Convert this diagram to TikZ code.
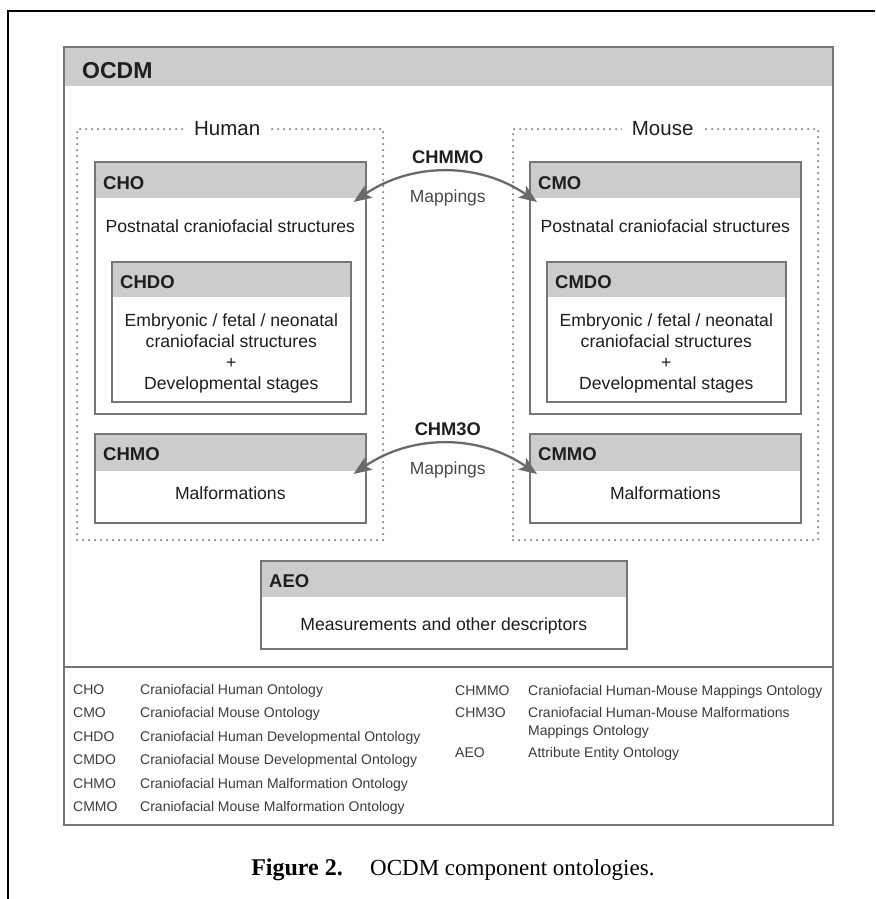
\documentclass[tikz,border=0pt]{standalone}
\usepackage{fontspec}
\setmainfont{Liberation Sans}
\newfontfamily\capfont{Liberation Serif}
\usetikzlibrary{calc,arrows.meta}
\definecolor{hdr}{HTML}{CCCCCC}
\definecolor{bord}{HTML}{767676}
\definecolor{txt}{HTML}{1E1E1E}
\definecolor{soft}{HTML}{4A4A4A}
\definecolor{leg}{HTML}{3C3C3C}
\definecolor{arr}{HTML}{6A6A6A}
\definecolor{dots}{HTML}{7C7C7C}
\tikzset{
  box/.style={draw=bord, line width=1.6pt, rectangle, inner sep=0pt, anchor=north west, fill=white},
  hbox/.style={box, path picture={\fill[hdr] (path picture bounding box.north west) rectangle ($(path picture bounding box.north east)+(0,#1)$);}},
  hbox/.default=36,
  dotbox/.style={draw=dots, line width=2.3pt, dash pattern=on 0pt off 6pt, line cap=round, rectangle, inner sep=0pt, anchor=north west},
  hdrtxt/.style={font=\fontsize{18.5}{20}\selectfont\bfseries, text=txt, anchor=base west, inner sep=0pt},
  body/.style={font=\fontsize{17.6}{21}\selectfont, text=txt, anchor=base, inner sep=0pt},
  grouplbl/.style={font=\fontsize{20.5}{22}\selectfont, text=txt, fill=white, inner xsep=10pt, inner ysep=2pt},
  maplbl/.style={font=\fontsize{18.3}{20}\selectfont\bfseries, text=txt, anchor=base, inner sep=0pt},
  mapsub/.style={font=\fontsize{17.5}{20}\selectfont, text=soft, anchor=base, inner sep=0pt},
  maparrow/.style={draw=arr, line width=2.3pt, {Stealth[length=18pt, width=14pt, inset=4pt, fill=arr]}-{Stealth[length=18pt, width=14pt, inset=4pt, fill=arr]}},
  legtxt/.style={font=\fontsize{14}{16}\selectfont, text=leg, anchor=base west, inner sep=0pt},
  captxt/.style={font=\capfont\fontsize{23}{26}\selectfont, text=black, anchor=base west, inner sep=0pt}
}
\begin{document}
\begin{tikzpicture}[x=1pt, y=-1pt]
\useasboundingbox (0,0) rectangle (875,899);
% outer frame
\draw[black, line width=2.5pt] (8,899) -- (8,11) -- (875,11);

% OCDM frame
\node[hbox=39, minimum width=769pt, minimum height=778pt] (ocdm) at (63,46) {};
\node[hdrtxt, font=\fontsize{23}{25}\selectfont\bfseries] (ocdmt) at ($(ocdm.north west)+(19,32)$) {OCDM};
\draw[bord, line width=1.6pt] ($(ocdm.north west)+(0,621)$) -- ($(ocdm.north east)+(0,621)$);

% groups
\node[dotbox, minimum width=306pt, minimum height=411pt] (human) at (76,128) {};
\node[grouplbl] (humant) at ($(human.north)+(-3,1)$) {Human};
\node[dotbox, minimum width=305pt, minimum height=411pt] (mouse) at (512,128) {};
\node[grouplbl] (mouset) at ($(mouse.north)+(-3,1)$) {Mouse};

% CHO
\node[hbox, minimum width=271pt, minimum height=252pt] (cho) at (94,161) {};
\node[hdrtxt] (chot) at ($(cho.north west)+(9,28)$) {CHO};
\node[body] (chob) at ($(cho.north)+(0,71)$) {Postnatal craniofacial structures};
\node[hbox=35, minimum width=239pt, minimum height=140pt] (chdo) at (111,261) {};
\node[hdrtxt] (chdot) at ($(chdo.north west)+(9,27)$) {CHDO};
\node[body] (chdo1) at ($(chdo.north)+(0,65)$) {Embryonic / fetal / neonatal};
\node[body] (chdo2) at ($(chdo.north)+(0,86)$) {craniofacial structures};
\node[body] (chdo3) at ($(chdo.north)+(0,107)$) {+};
\node[body] (chdo4) at ($(chdo.north)+(0,128)$) {Developmental stages};

% CMO
\node[hbox, minimum width=271pt, minimum height=252pt] (cmo) at (529,161) {};
\node[hdrtxt] (cmot) at ($(cmo.north west)+(9,28)$) {CMO};
\node[body] (cmob) at ($(cmo.north)+(0,71)$) {Postnatal craniofacial structures};
\node[hbox=35, minimum width=239pt, minimum height=140pt] (cmdo) at (546,261) {};
\node[hdrtxt] (cmdot) at ($(cmdo.north west)+(9,27)$) {CMDO};
\node[body] (cmdo1) at ($(cmdo.north)+(0,65)$) {Embryonic / fetal / neonatal};
\node[body] (cmdo2) at ($(cmdo.north)+(0,86)$) {craniofacial structures};
\node[body] (cmdo3) at ($(cmdo.north)+(0,107)$) {+};
\node[body] (cmdo4) at ($(cmdo.north)+(0,128)$) {Developmental stages};

% CHMO / CMMO
\node[hbox=37, minimum width=271pt, minimum height=89pt] (chmo) at (94,433) {};
\node[hdrtxt] (chmot) at ($(chmo.north west)+(9,27)$) {CHMO};
\node[body] (chmob) at ($(chmo.north)+(0,66)$) {Malformations};
\node[hbox=37, minimum width=271pt, minimum height=89pt] (cmmo) at (529,433) {};
\node[hdrtxt] (cmmot) at ($(cmmo.north west)+(9,27)$) {CMMO};
\node[body] (cmmob) at ($(cmmo.north)+(0,66)$) {Malformations};

% AEO
\node[hbox, minimum width=366pt, minimum height=88pt] (aeo) at (260,560) {};
\node[hdrtxt] (aeot) at ($(aeo.north west)+(9,27)$) {AEO};
\node[body] (aeob) at ($(aeo.north)+(0,70)$) {Measurements and other descriptors};

% mappings
\coordinate (m1) at ($(cho.north east)!0.5!(cmo.north west)$);
\node[maplbl] (chmmo) at ($(m1)+(0,2)$) {CHMMO};
\node[mapsub] (map1) at ($(m1)+(0,41)$) {Mappings};
\coordinate (a1l) at ($(cho.north east)+(-13,41)$);
\coordinate (a1r) at ($(cmo.north west)+(8,41)$);
\draw[maparrow] (a1l) .. controls +(58,-40) and +(-58,-40) .. (a1r);

\coordinate (m2) at ($(chmo.north east)!0.5!(cmmo.north west)$);
\node[maplbl] (chm3o) at ($(m2)+(0,2)$) {CHM3O};
\node[mapsub] (map2) at ($(m2)+(0,41)$) {Mappings};
\coordinate (a2l) at ($(chmo.north east)+(-13,41)$);
\coordinate (a2r) at ($(cmmo.north west)+(8,41)$);
\draw[maparrow] (a2l) .. controls +(58,-40) and +(-58,-40) .. (a2r);

% legend
\node[legtxt] (l1a) at (73,694) {CHO};   \node[legtxt] (l1b) at (140,694) {Craniofacial Human Ontology};
\node[legtxt] (l2a) at (73,717.5) {CMO};   \node[legtxt] (l2b) at (140,717.5) {Craniofacial Mouse Ontology};
\node[legtxt] (l3a) at (73,741) {CHDO};  \node[legtxt] (l3b) at (140,741) {Craniofacial Human Developmental Ontology};
\node[legtxt] (l4a) at (73,764.5) {CMDO};  \node[legtxt] (l4b) at (140,764.5) {Craniofacial Mouse Developmental Ontology};
\node[legtxt] (l5a) at (73,788) {CHMO};  \node[legtxt] (l5b) at (140,788) {Craniofacial Human Malformation Ontology};
\node[legtxt] (l6a) at (73,811.5) {CMMO};  \node[legtxt] (l6b) at (140,811.5) {Craniofacial Mouse Malformation Ontology};
\node[legtxt] (r1a) at (455,695) {CHMMO}; \node[legtxt] (r1b) at (528,695) {Craniofacial Human-Mouse Mappings Ontology};
\node[legtxt] (r2a) at (455,717) {CHM3O}; \node[legtxt] (r2b) at (528,717) {Craniofacial Human-Mouse Malformations};
\node[legtxt] (r2c) at (528,735) {Mappings Ontology};
\node[legtxt] (r3a) at (455,757) {AEO};   \node[legtxt] (r3b) at (528,757) {Attribute Entity Ontology};

% caption
\node[captxt, anchor=base east, font=\capfont\bfseries\fontsize{24}{26}\selectfont] (capa) at (343,875) {Figure 2.};
\node[captxt] (capb) at (370,875) {OCDM component ontologies.};
\end{tikzpicture}
\end{document}
